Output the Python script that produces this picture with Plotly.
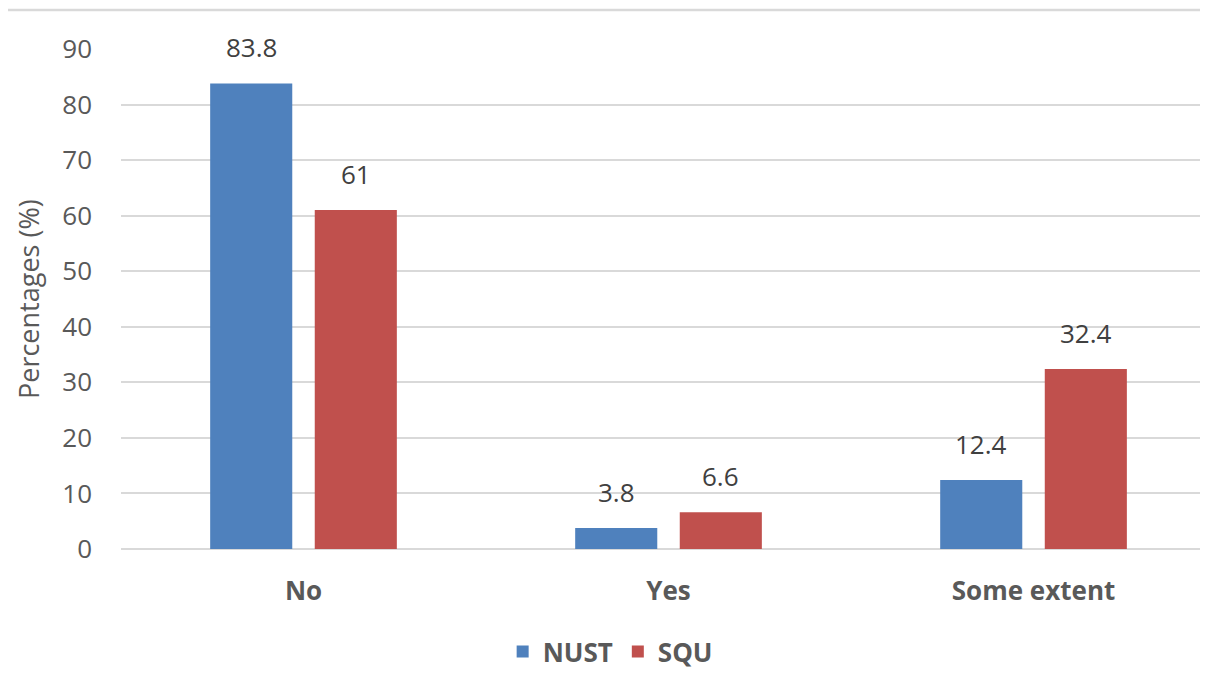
import plotly.graph_objects as go

categories = ["No", "Yes", "Some extent"]
nust = [83.8, 3.8, 12.4]
squ = [61, 6.6, 32.4]
nust_labels = ["83.8", "3.8", "12.4"]
squ_labels = ["61", "6.6", "32.4"]
yticks = [0, 10, 20, 30, 40, 50, 60, 70, 80, 90]

FONT = "Open Sans"
GRAY = "#595959"
LBL = "#404040"
BARGAP = 0.427
BARGROUPGAP = 0.215
FS = 26

fig = go.Figure()
fig.add_trace(go.Bar(name="NUST", x=categories, y=nust, marker_color="#4F81BD",
                     marker_line=dict(color="#4F81BD", width=0)))
fig.add_trace(go.Bar(name="SQU", x=categories, y=squ, marker_color="#C0504D",
                     marker_line=dict(color="#C0504D", width=0)))

# data labels above bars (positions derived from data + group layout)
slot = (1 - BARGAP) / 2
for series, labels, sign in ((nust, nust_labels, -1), (squ, squ_labels, 1)):
    for i, (v, t) in enumerate(zip(series, labels)):
        fig.add_annotation(x=i + sign * slot / 2, y=v, xref="x", yref="y", text=t,
                           showarrow=False, xanchor="center", yanchor="bottom", yshift=16,
                           font=dict(size=FS, color=LBL, family=FONT))

fig.update_layout(
    width=1200, height=667,
    margin=dict(l=113, r=0, t=41, b=126, autoexpand=False),
    paper_bgcolor="white", plot_bgcolor="white",
    barmode="group", bargap=BARGAP, bargroupgap=BARGROUPGAP,
    font=dict(family=FONT, color=GRAY),
    showlegend=True,
    legend=dict(orientation="h", x=0.45, xanchor="center",
                yref="container", y=0.0, yanchor="bottom",
                font=dict(size=FS, color=GRAY, family=FONT, weight="bold"),
                traceorder="normal"),
)
fig.update_xaxes(range=[-0.5, 2.478], showgrid=False, showline=False, zeroline=False,
                 tickfont=dict(size=FS, color=GRAY, family=FONT, weight="bold"),
                 ticks="", ticklabelstandoff=24)
fig.update_yaxes(range=[0, 90], tickvals=yticks, showgrid=True, gridcolor="#D9D9D9",
                 gridwidth=1.5, zeroline=True, zerolinecolor="#D9D9D9", zerolinewidth=1.5,
                 showline=False, ticks="", ticklabelstandoff=28,
                 tickfont=dict(size=FS, color=GRAY, family=FONT))
fig.add_annotation(text="Percentages (%)", xref="paper", yref="paper",
                   x=(28 - 121) / 1087, y=0.5, textangle=-90, showarrow=False,
                   xanchor="center", yanchor="middle",
                   font=dict(size=27, color=GRAY, family=FONT))
fig.add_shape(type="line", xref="paper", yref="paper", x0=-121 / 1087, x1=1.0,
              y0=(549 - 10) / 500, y1=(549 - 10) / 500, line=dict(color="#D9D9D9", width=2.5))

fig.write_html("out.html")
